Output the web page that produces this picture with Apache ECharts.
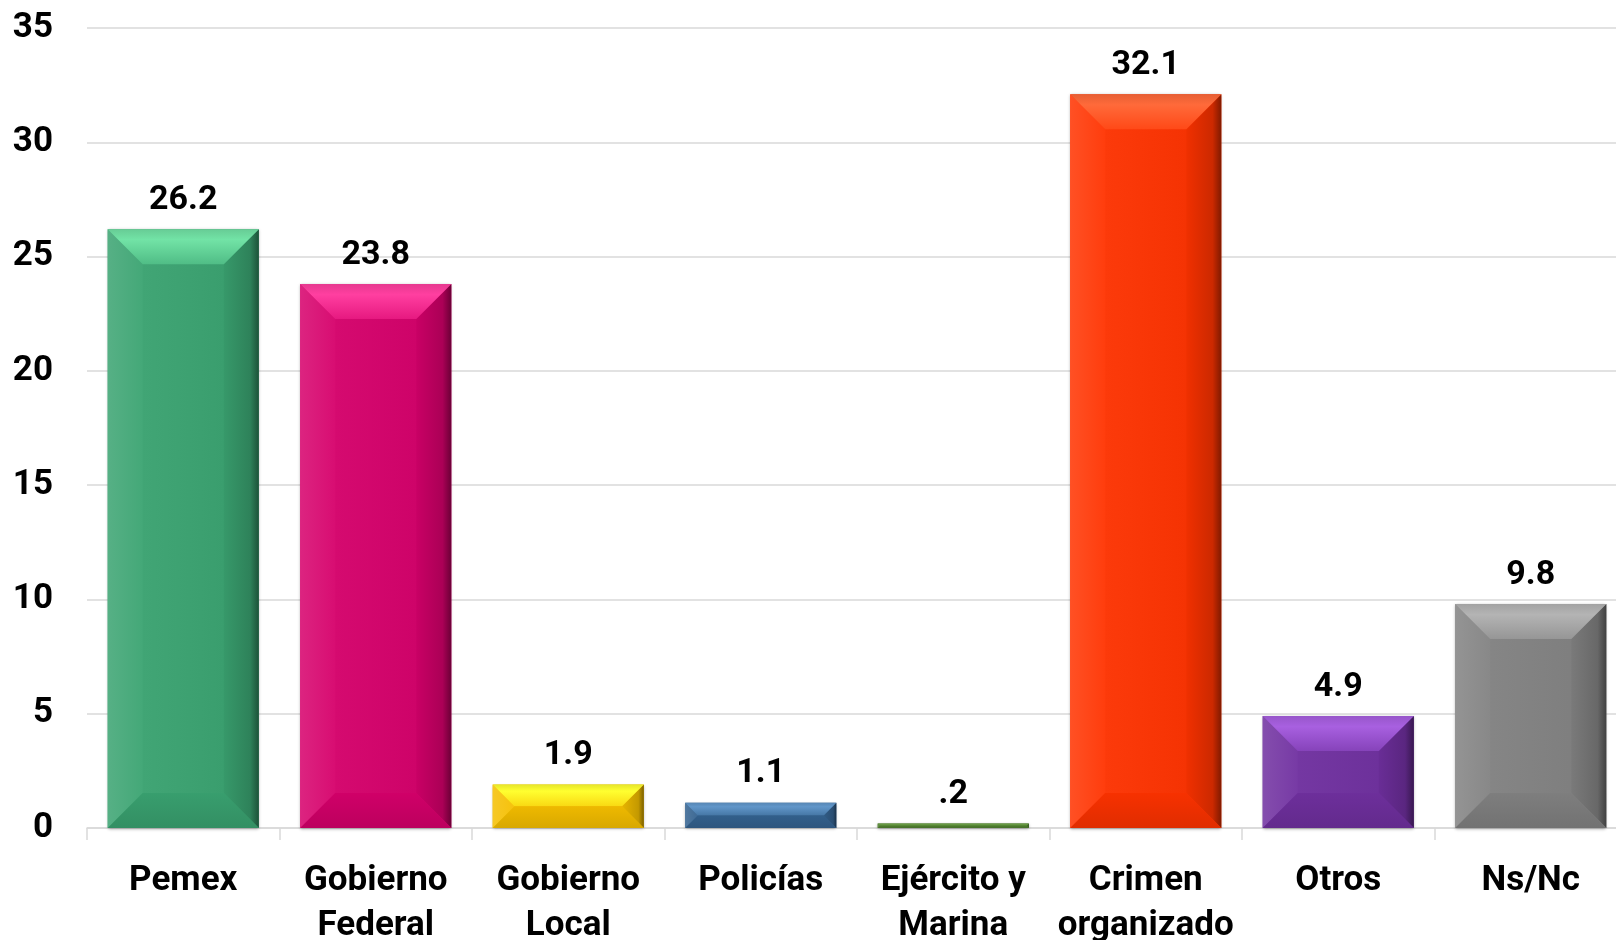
<!DOCTYPE html>
<html><head><meta charset="utf-8">
<script src="https://cdn.jsdelivr.net/npm/echarts@6/dist/echarts.min.js"></script>
<style>html,body{margin:0;padding:0;background:#fff}#c{width:1616px;height:940px}</style>
</head><body><div id="c"></div>
<script>
const categories = ['Pemex', 'Gobierno\nFederal', 'Gobierno\nLocal', 'Policías', 'Ejército y\nMarina', 'Crimen\norganizado', 'Otros', 'Ns/Nc'];
const values = [26.2, 23.8, 1.9, 1.1, 0.2, 32.1, 4.9, 9.8];
const valueLabels = ['26.2', '23.8', '1.9', '1.1', '.2', '32.1', '4.9', '9.8'];
const yMin = 0, yMax = 35, yStep = 5;

const baseColors = ['#3aa371', '#d6006b', '#f5bf00', '#34628f', '#4f7f2f', '#ff3300', '#7030a0', '#828282'];
const topColors  = ['#72e3a6', '#ff3fa0', '#ffff30', '#6196c9', '#6a9c45', '#ff6a3a', '#a860e0', '#b4b4b4'];

function hexToRgb(h){h=h.replace('#','');return [parseInt(h.substr(0,2),16),parseInt(h.substr(2,2),16),parseInt(h.substr(4,2),16)];}
function mix(a,b,t){const A=hexToRgb(a),B=hexToRgb(b);return 'rgb('+A.map((v,i)=>Math.round(v+(B[i]-v)*t)).join(',')+')';}

const FONT = 'Roboto, "Noto Sans", sans-serif';
const BAR_RATIO = 0.785;
const LG = echarts.graphic.LinearGradient;

function renderItem(params, api){
  const idx = api.value(0), v = api.value(1);
  const top = api.coord([idx, v]);
  const bot = api.coord([idx, 0]);
  const bw = api.size([1, 0])[0] * BAR_RATIO;
  const x0 = top[0] - bw/2, x1 = top[0] + bw/2, y0 = top[1], y1 = bot[1];
  const b = Math.min(35, (y1 - y0)/2, bw/2);
  const base = baseColors[idx], tc = topColors[idx];
  return {type:'group', children:[
    {type:'polygon', shape:{points:[[x0,y0],[x0+b,y0+b],[x0+b,y1-b],[x0,y1]]},
      style:{fill:new LG(0,0,1,0,[{offset:0,color:mix(base,'#ffffff',0.14)},{offset:1,color:mix(base,'#ffffff',0.05)}])}},
    {type:'polygon', shape:{points:[[x1,y0],[x1-b,y0+b],[x1-b,y1-b],[x1,y1]]},
      style:{fill:new LG(0,0,1,0,[{offset:0,color:mix(base,'#000000',0.06)},{offset:0.75,color:mix(base,'#000000',0.2)},{offset:1,color:mix(base,'#000000',0.5)}])}},
    {type:'polygon', shape:{points:[[x0,y0],[x1,y0],[x1-b,y0+b],[x0+b,y0+b]]},
      style:{fill:new LG(0,0,0,1,[{offset:0,color:mix(tc,'#000000',0.1)},{offset:0.3,color:tc},{offset:1,color:mix(tc,base,0.6)}])}},
    {type:'polygon', shape:{points:[[x0,y1],[x1,y1],[x1-b,y1-b],[x0+b,y1-b]]},
      style:{fill:new LG(0,0,0,1,[{offset:0,color:mix(base,'#000000',0.03)},{offset:1,color:mix(base,'#000000',0.12)}])}}
  ]};
}

const chart = echarts.init(document.getElementById('c'), null, {renderer:'canvas'});
chart.setOption({
  animation:false,
  grid:{left:87, top:28, width:1540, height:800, outerBoundsMode:'none', containLabel:false},
  xAxis:{type:'category', data:categories,
    axisLine:{lineStyle:{color:'#d9d9d9', width:1.5}},
    axisTick:{show:true, length:12, lineStyle:{color:'#d9d9d9', width:1.5}},
    axisLabel:{interval:0, fontFamily:FONT, fontWeight:'bold', fontSize:35, color:'#000', lineHeight:45, margin:31}},
  yAxis:{type:'value', min:yMin, max:yMax, interval:yStep,
    axisLine:{show:false}, axisTick:{show:false},
    splitLine:{lineStyle:{color:'#d9d9d9', width:1.5}},
    axisLabel:{fontFamily:FONT, fontWeight:'bold', fontSize:35, color:'#000', margin:34, padding:[6,0,0,0]}},
  series:[
    {type:'bar', barWidth:(BAR_RATIO*100)+'%',
      data: values.map((v,i)=>({value:v, itemStyle:{color:new LG(0,0,1,0,[{offset:0,color:mix(baseColors[i],'#ffffff',0.05)},{offset:1,color:mix(baseColors[i],'#000000',0.05)}])}})),
      itemStyle:{shadowBlur:3, shadowColor:'rgba(0,0,0,0.35)', shadowOffsetY:1},
      label:{show:true, position:'top', distance:12, fontFamily:FONT, fontWeight:'bold', fontSize:34, color:'#000',
        formatter:p=>valueLabels[p.dataIndex]}},
    {type:'custom', renderItem:renderItem, silent:true, z:3,
      encode:{x:0, y:1},
      data: values.map((v,i)=>[i, v])}
  ]
});
</script></body></html>
